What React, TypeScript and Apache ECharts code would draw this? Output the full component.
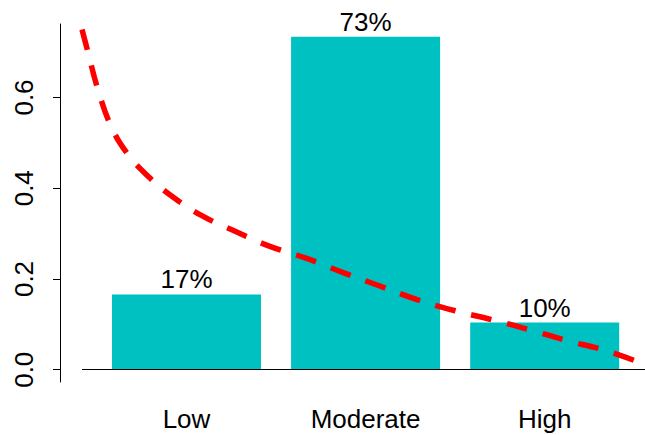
import React, { useEffect, useRef } from "react";
import * as echarts from "echarts";

// Categories and bar values (proportions)
const categories = ["Low", "Moderate", "High"];
const barPositions = [0.7, 1.9, 3.1];
const barValues = [0.166, 0.734, 0.104];

// Red dashed curve
const curveX = [0, 0.04, 0.1, 0.19, 0.3, 0.45, 0.6, 0.8, 1.0, 1.25, 1.5, 1.75, 2.0, 2.25, 2.5, 2.75, 3.0, 3.25, 3.5, 3.77];
const curveY = [0.75, 0.7, 0.625, 0.54, 0.478, 0.424, 0.383, 0.34, 0.309, 0.273, 0.246, 0.214, 0.184, 0.154, 0.13, 0.11, 0.088, 0.064, 0.043, 0.012];

// Y tick values
const yTicks = [0, 0.2, 0.4, 0.6];

const FONT = "'Liberation Sans', Arial, Helvetica, sans-serif";

export default function App() {
  const ref = useRef<HTMLDivElement>(null);

  useEffect(() => {
    if (!ref.current) return;
    const chart = echarts.init(ref.current, null, { renderer: "svg" });
    const option: any = {
      animation: false,
      backgroundColor: "#ffffff",
      textStyle: { fontFamily: FONT },
      grid: { left: 82, right: 0, top: 24, bottom: 53, containLabel: false },
      xAxis: {
        type: "value",
        min: 0,
        max: 3.772,
        axisLine: { show: false, onZero: false },
        axisTick: { show: false },
        splitLine: { show: false },
        axisLabel: {
          customValues: barPositions,
          formatter: (v: number) => {
            const i = barPositions.findIndex((p) => Math.abs(p - v) < 1e-6);
            return i >= 0 ? categories[i] : "";
          },
          fontSize: 26,
          lineHeight: 20,
          fontFamily: FONT,
          color: "#000000",
          margin: 27,
        },
      },
      yAxis: {
        type: "value",
        min: -0.027,
        max: 0.762,
        offset: 22,
        axisLine: { show: true, onZero: false, lineStyle: { color: "#000000", width: 1 } },
        axisTick: { show: true, length: 7, customValues: yTicks, lineStyle: { color: "#000000", width: 1 } },
        splitLine: { show: false },
        axisLabel: {
          customValues: yTicks,
          rotate: 90,
          formatter: (v: number) => v.toFixed(1),
          fontSize: 26,
          fontFamily: FONT,
          color: "#000000",
          margin: 23,
        },
      },
      series: [
        {
          type: "bar",
          data: barPositions.map((x, i) => [x, barValues[i]]),
          barWidth: 149,
          itemStyle: { color: "#00C1C1" },
          label: {
            show: true,
            position: "top",
            distance: 2,
            fontSize: 26,
            fontFamily: FONT,
            color: "#000000",
            formatter: (p: any) => Math.round(p.value[1] * 100) + "%",
          },
          markLine: {
            silent: true,
            symbol: "none",
            label: { show: false },
            lineStyle: { color: "#000000", width: 1, type: "solid" },
            data: [{ yAxis: 0 }],
          },
        },
        {
          type: "line",
          data: curveX.map((x, i) => [x, curveY[i]]),
          smooth: 0.4,
          showSymbol: false,
          symbol: "none",
          lineStyle: { color: "#FF0000", width: 5.5, type: [21, 16], cap: "butt" },
          z: 5,
        },
      ],
    };
    chart.setOption(option);
    return () => chart.dispose();
  }, []);

  return (
    <div
      ref={ref}
      style={{ position: "fixed", left: 0, top: 0, width: 645, height: 435 }}
    />
  );
}
